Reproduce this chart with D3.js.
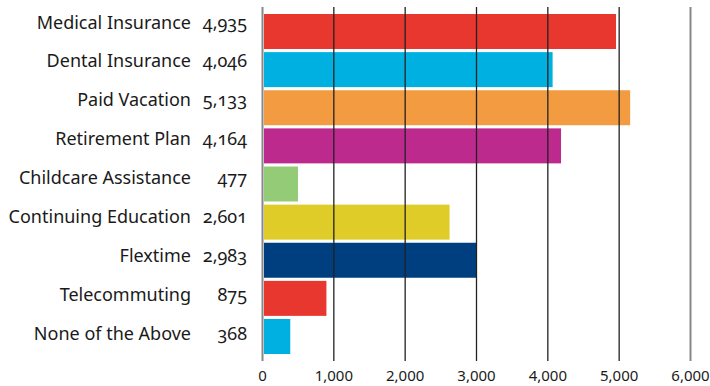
<!DOCTYPE html>
<html>
<head>
<meta charset="utf-8">
<script src="https://cdn.jsdelivr.net/npm/d3@7"></script>
<style>
  html, body { margin: 0; padding: 0; background: #fff; }
  svg { display: block; }
  .lbl { font-family: "Noto Sans", "Open Sans", sans-serif; font-size: 18px; fill: #1a1a1a; }
  .val { font-variant-numeric: oldstyle-nums; font-feature-settings: "onum" 1; }
  .tick text { font-family: "Noto Sans", "Open Sans", sans-serif; font-size: 15px; fill: #1a1a1a; }
</style>
</head>
<body>
<svg id="chart" width="710" height="386"></svg>
<script>
// Benefits offered, number of respondents
const categories = [
  "Medical Insurance", "Dental Insurance", "Paid Vacation", "Retirement Plan",
  "Childcare Assistance", "Continuing Education", "Flextime", "Telecommuting",
  "None of the Above"
];
const counts = [4935, 4046, 5133, 4164, 477, 2601, 2983, 875, 368];
const colors = [
  "#e8372f", "#00b0e1", "#f29b40", "#bd2a8e", "#93cb76",
  "#e0cc28", "#003f7f", "#e8372f", "#00b0e1"
];
const tickValues = [0, 1000, 2000, 3000, 4000, 5000, 6000];

const svg = d3.select("#chart");
const fmt = d3.format(",");

const x = d3.scaleLinear().domain([0, 6000]).range([262, 690]);

// bar rows
const y = d3.scaleBand()
  .domain(categories)
  .range([12.44, 355.56])
  .paddingInner(0.082)
  .paddingOuter(0.041);

// text rows (baselines)
const yText = d3.scalePoint()
  .domain(categories)
  .range([28.5, 339.5]);

svg.append("g")
  .selectAll("rect")
  .data(categories)
  .join("rect")
  .attr("x", x(0) + 2)
  .attr("y", d => y(d))
  .attr("width", (d, i) => x(counts[i]) - x(0))
  .attr("height", y.bandwidth())
  .attr("fill", (d, i) => colors[i]);

// gridlines + tick labels
const gridTop = 7, gridBottom = 361;
const axis = d3.axisBottom(x)
  .tickValues(tickValues)
  .tickFormat(fmt)
  .tickSize(-(gridBottom - gridTop))
  .tickPadding(0);

const gAxis = svg.append("g")
  .attr("transform", `translate(0,${gridBottom})`)
  .call(axis);
gAxis.select(".domain").remove();
gAxis.selectAll(".tick line")
  .attr("stroke", d => (d === 0 || d === 6000) ? "#878787" : "#222")
  .attr("stroke-width", d => (d === 0 || d === 6000) ? 2 : 1.3);
gAxis.selectAll(".tick text")
  .attr("y", 20)
  .attr("dy", 0);

// category names
svg.append("g")
  .selectAll("text")
  .data(categories)
  .join("text")
  .attr("class", "lbl")
  .attr("x", 191)
  .attr("y", d => yText(d))
  .attr("text-anchor", "end")
  .text(d => d);

// value labels
svg.append("g")
  .selectAll("text")
  .data(categories)
  .join("text")
  .attr("class", "lbl val")
  .attr("x", 247)
  .attr("y", d => yText(d))
  .attr("text-anchor", "end")
  .text((d, i) => fmt(counts[i]));
</script>
</body>
</html>
